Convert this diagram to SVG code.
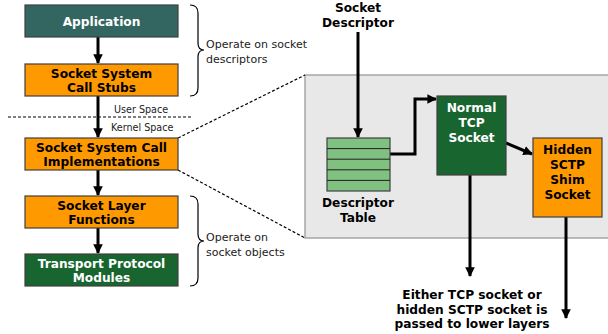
<svg xmlns="http://www.w3.org/2000/svg" width="608" height="334" viewBox="0 0 608 334">
  <defs>
    <marker id="arrow" viewBox="0 0 10 10" refX="9" refY="5" markerWidth="3.2" markerHeight="3.2" orient="auto" markerUnits="strokeWidth">
      <path d="M0,0 L10,5 L0,10 z" fill="#000"/>
    </marker>
    <style>
      .box { stroke: #404040; stroke-width: 1.2; }
      .teal { fill: #336661; }
      .orange { fill: #ff9900; }
      .green { fill: #18652f; }
      .lbl { font-family: "DejaVu Sans", Verdana, sans-serif; font-weight: bold; font-size: 12.2px; text-anchor: middle; }
      .w { fill: #ffffff; }
      .k { fill: #000000; }
      .note { font-family: "DejaVu Sans", Verdana, sans-serif; font-size: 11px; fill: #222; }
      .small { font-family: "DejaVu Sans", Verdana, sans-serif; font-size: 9.6px; fill: #222; }
      .edge { stroke: #000; stroke-width: 3; fill: none; }
      .dash { stroke: #000; stroke-width: 1.2; stroke-dasharray: 3 2; fill: none; }
      .brace { stroke: #000; stroke-width: 1.2; fill: none; }
    </style>
  </defs>

  <!-- zoomed panel background -->
  <rect x="305" y="75" width="310" height="163" fill="#e8e8e8" stroke="#a6a6a6" stroke-width="1.5"/>

  <!-- connectors -->
  <g id="connectors">
    <line class="edge" x1="98" y1="37" x2="98" y2="63" marker-end="url(#arrow)"/>
    <line class="edge" x1="98" y1="96" x2="98" y2="137" marker-end="url(#arrow)"/>
    <line class="edge" x1="98" y1="170" x2="98" y2="195" marker-end="url(#arrow)"/>
    <line class="edge" x1="98" y1="228" x2="98" y2="253" marker-end="url(#arrow)"/>
    <line class="dash" x1="8" y1="117" x2="193" y2="117"/>
    <line class="dash" x1="178" y1="138" x2="305" y2="75"/>
    <line class="dash" x1="178" y1="170" x2="305" y2="238"/>
    <path class="brace" d="M190,5 Q198,5 198,13 L198,43 Q198,50 204,50 Q198,50 198,57 L198,88 Q198,96 190,96"/>
    <path class="brace" d="M190,196 Q198,196 198,204 L198,234 Q198,241 204,241 Q198,241 198,248 L198,278 Q198,286 190,286"/>
    <line class="edge" x1="358" y1="32" x2="358" y2="137" stroke-width="2.5" marker-end="url(#arrow)"/>
    <polyline class="edge" stroke-width="2.5" points="390,154 415,154 415,99 436,99" marker-end="url(#arrow)"/>
    <line class="edge" stroke-width="2.5" x1="506" y1="143" x2="532" y2="154" marker-end="url(#arrow)"/>
    <line class="edge" stroke-width="2.5" x1="470" y1="175" x2="470" y2="276" marker-end="url(#arrow)"/>
    <line class="edge" stroke-width="2.5" x1="566" y1="217" x2="566" y2="318" marker-end="url(#arrow)"/>
  </g>

  <g id="application">
    <rect class="box teal" x="25" y="5" width="153" height="32"/>
    <text class="lbl w" x="101.5" y="26">Application</text>
  </g>

  <g id="call-stubs">
    <rect class="box orange" x="25" y="64" width="153" height="32"/>
    <text class="lbl k" x="101.5" y="78">Socket System</text>
    <text class="lbl k" x="101.5" y="92">Call Stubs</text>
  </g>

  <g id="call-impl">
    <rect class="box orange" x="25" y="138" width="153" height="32"/>
    <text class="lbl k" x="101.5" y="152">Socket System Call</text>
    <text class="lbl k" x="101.5" y="166">Implementations</text>
  </g>

  <g id="socket-layer">
    <rect class="box orange" x="25" y="196" width="153" height="32"/>
    <text class="lbl k" x="101.5" y="210">Socket Layer</text>
    <text class="lbl k" x="101.5" y="224">Functions</text>
  </g>

  <g id="transport">
    <rect class="box green" x="25" y="254" width="153" height="32"/>
    <text class="lbl w" x="101.5" y="268">Transport Protocol</text>
    <text class="lbl w" x="101.5" y="282">Modules</text>
  </g>

  <g id="notes">
    <text class="note" x="206" y="48">Operate on socket</text>
    <text class="note" x="206" y="63">descriptors</text>
    <text class="small" x="114" y="113">User Space</text>
    <text class="small" x="111" y="131">Kernel Space</text>
    <text class="note" x="206" y="241">Operate on</text>
    <text class="note" x="206" y="256">socket objects</text>
  </g>

  <g id="socket-descriptor">
    <text class="lbl k" x="358" y="12">Socket</text>
    <text class="lbl k" x="358" y="27">Descriptor</text>
  </g>

  <g id="descriptor-table">
    <rect x="327" y="138" width="63" height="53" fill="#80c080" stroke="#404040" stroke-width="1.2"/>
    <line x1="327" y1="148.6" x2="390" y2="148.6" stroke="#202020" stroke-width="1"/>
    <line x1="327" y1="159.2" x2="390" y2="159.2" stroke="#202020" stroke-width="1"/>
    <line x1="327" y1="169.8" x2="390" y2="169.8" stroke="#202020" stroke-width="1"/>
    <line x1="327" y1="180.4" x2="390" y2="180.4" stroke="#202020" stroke-width="1"/>
    <text class="lbl k" x="358" y="207">Descriptor</text>
    <text class="lbl k" x="358" y="222">Table</text>
  </g>

  <g id="tcp-socket">
    <rect class="box green" x="437" y="96" width="69" height="79"/>
    <text class="lbl w" x="471.5" y="112">Normal</text>
    <text class="lbl w" x="471.5" y="127">TCP</text>
    <text class="lbl w" x="471.5" y="142">Socket</text>
  </g>

  <g id="sctp-shim">
    <rect class="box orange" x="533" y="138" width="69" height="79"/>
    <text class="lbl k" x="567.5" y="154">Hidden</text>
    <text class="lbl k" x="567.5" y="169">SCTP</text>
    <text class="lbl k" x="567.5" y="184">Shim</text>
    <text class="lbl k" x="567.5" y="199">Socket</text>
  </g>

  <g id="lower-layers">
    <text class="lbl k" x="472" y="299">Either TCP socket or</text>
    <text class="lbl k" x="472" y="314">hidden SCTP socket is</text>
    <text class="lbl k" x="472" y="328">passed to lower layers</text>
  </g>
</svg>
